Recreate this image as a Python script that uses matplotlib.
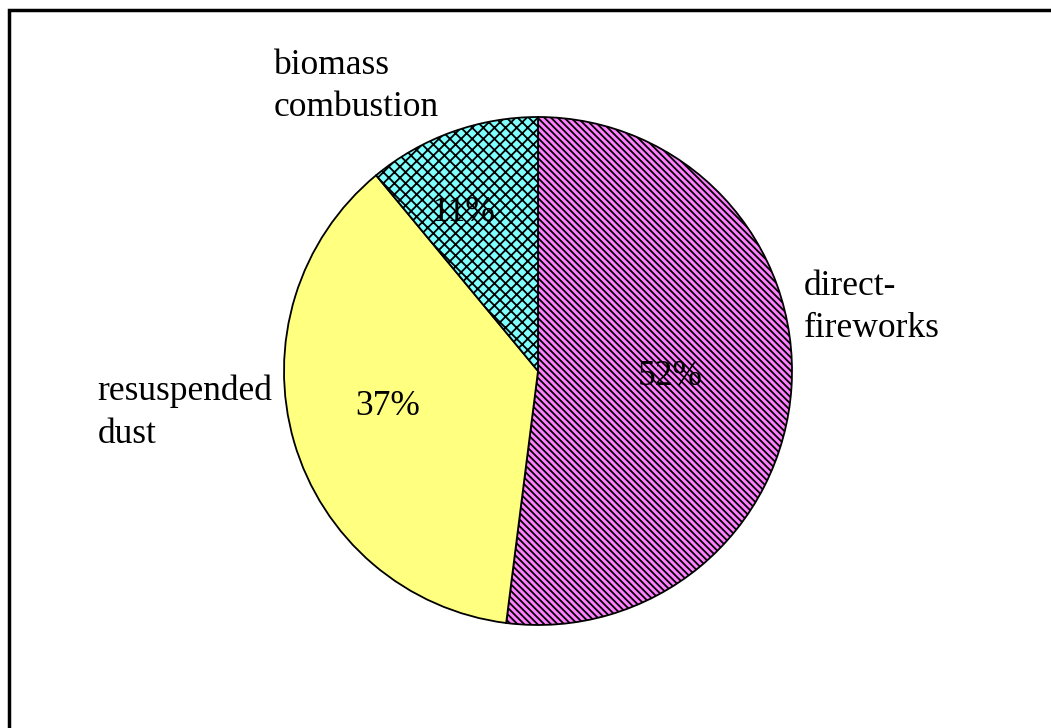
import matplotlib
matplotlib.use("Agg")
import numpy as np
import matplotlib.pyplot as plt
from matplotlib.patches import Rectangle

plt.rcParams['font.family'] = ['Liberation Serif', 'DejaVu Serif']
plt.rcParams['hatch.linewidth'] = 1.3

# data
sources = ['direct-\nfireworks', 'resuspended\ndust', 'biomass\ncombustion']
shares = [52, 37, 11]
colors = ['#FF80FF', '#FFFF80', '#80FFFF']
hatches = ['\\\\\\\\\\', '', 'xxx']

W, H = 1051, 728
fig = plt.figure(figsize=(W / 100, H / 100), dpi=100)

# outer frame (runs past right/bottom edges like the original)
fig.patches.append(Rectangle((9 / W, -0.05), 1.2, 1 - 10 / H + 0.05,
                             transform=fig.transFigure, fill=False,
                             edgecolor='black', linewidth=2.5))

# pie centred at (538, 371) px, radius 254 px
r = 254
ax = fig.add_axes([(538 - r) / W, (H - 371 - r) / H, 2 * r / W, 2 * r / H])
wedges, texts, autotexts = ax.pie(
    shares, colors=colors, startangle=90, counterclock=False,
    autopct='%1.0f%%', pctdistance=0.6,
    textprops=dict(fontsize=25.5, color='black'),
    wedgeprops=dict(edgecolor='black', linewidth=1.3))
for w, h in zip(wedges, hatches):
    w.set_hatch(h)

# per-slice position of the percentage labels (distance, angle)
pct_pos = [(0.52, -2.5), (0.607, -166.5), (0.69, 115.0)]
for t, (d, a) in zip(autotexts, pct_pos):
    t.set_position((d * np.cos(np.radians(a)), d * np.sin(np.radians(a))))

ax.set_xlim(-1, 1)
ax.set_ylim(-1, 1)
ax.set_aspect('auto')

# category labels (pie radius units)
label_pos = [(1.045, 0.25), (-1.735, -0.165), (-1.04, 1.12)]
for s, (x, y) in zip(sources, label_pos):
    ax.text(x, y, s, fontsize=25.5, ha='left', va='center', linespacing=1.38,
            clip_on=False)

fig.savefig('out.png', dpi=100)
